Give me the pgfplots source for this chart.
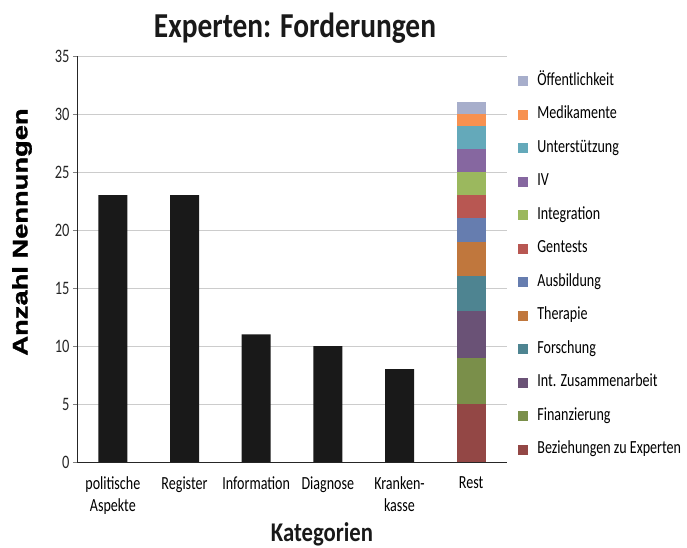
\documentclass[border=0pt]{standalone}
\usepackage{pgfplots}
\pgfplotsset{compat=1.18}
\usepackage{fontspec}
\setmainfont{Carlito}[FakeStretch=0.76]
\newfontfamily\titlefont{Carlito}[FakeStretch=0.84]
\newfontfamily\ylabfont{Liberation Sans}[FakeStretch=1.3, FakeBold=1.5]
\definecolor{cBez}{RGB}{147,71,69}
\definecolor{cFin}{RGB}{122,143,74}
\definecolor{cInt}{RGB}{106,82,118}
\definecolor{cFor}{RGB}{78,132,145}
\definecolor{cThe}{RGB}{192,119,61}
\definecolor{cAus}{RGB}{102,125,175}
\definecolor{cGen}{RGB}{184,87,82}
\definecolor{cInteg}{RGB}{155,184,94}
\definecolor{cIV}{RGB}{134,103,160}
\definecolor{cUnt}{RGB}{100,169,186}
\definecolor{cMed}{RGB}{247,145,80}
\definecolor{cOef}{RGB}{167,174,203}
\definecolor{barblack}{RGB}{25,25,25}
\begin{document}
\begin{tikzpicture}
\useasboundingbox (-77pt,-85pt) rectangle (610pt,462pt);
\begin{axis}[
  at={(0pt,0pt)}, anchor=south west,
  scale only axis, width=430pt, height=406pt,
  ybar stacked, bar width=29pt,
  xmin=-0.5, xmax=5.5, ymin=0, ymax=35,
  ytick={0,5,...,35},
  xtick={0,...,5},
  xticklabels={politische\\Aspekte, Register, Information, Diagnose, Kranken-\\kasse, Rest},
  xticklabel style={align=center, font=\fontsize{18.5}{22}\selectfont, yshift=-7pt},
  major x tick style={draw=none},
  yticklabel style={font=\fontsize{19}{20}\selectfont, text=black!85},
  /pgf/number format/assume math mode=true,
  axis x line*=bottom, axis y line*=left,
  axis line style={black!85, thick},
  tick align=outside, major tick length=4pt,
  ymajorgrids, grid style={gray!40, line width=0.8pt},
  legend style={at={(1.019,0.966)}, anchor=north west, draw=none, fill=none,
    font=\fontsize{18.5}{20}\selectfont, row sep=15.5pt, column sep=9pt, cells={anchor=west},
    nodes={inner sep=0pt, text height=13pt, text depth=5pt}},
  reverse legend,
  legend image code/.code={\fill[#1] (0pt,-5pt) rectangle (10pt,5pt);},
  every axis plot/.append style={draw=none},
]
\addplot[fill=barblack, forget plot] coordinates {(0,23) (1,23) (2,11) (3,10) (4,8) (5,0)};
\addplot[fill=cBez] coordinates {(0,0) (1,0) (2,0) (3,0) (4,0) (5,5)};
\addplot[fill=cFin] coordinates {(0,0) (1,0) (2,0) (3,0) (4,0) (5,4)};
\addplot[fill=cInt] coordinates {(0,0) (1,0) (2,0) (3,0) (4,0) (5,4)};
\addplot[fill=cFor] coordinates {(0,0) (1,0) (2,0) (3,0) (4,0) (5,3)};
\addplot[fill=cThe] coordinates {(0,0) (1,0) (2,0) (3,0) (4,0) (5,3)};
\addplot[fill=cAus] coordinates {(0,0) (1,0) (2,0) (3,0) (4,0) (5,2)};
\addplot[fill=cGen] coordinates {(0,0) (1,0) (2,0) (3,0) (4,0) (5,2)};
\addplot[fill=cInteg] coordinates {(0,0) (1,0) (2,0) (3,0) (4,0) (5,2)};
\addplot[fill=cIV] coordinates {(0,0) (1,0) (2,0) (3,0) (4,0) (5,2)};
\addplot[fill=cUnt] coordinates {(0,0) (1,0) (2,0) (3,0) (4,0) (5,2)};
\addplot[fill=cMed] coordinates {(0,0) (1,0) (2,0) (3,0) (4,0) (5,1)};
\addplot[fill=cOef] coordinates {(0,0) (1,0) (2,0) (3,0) (4,0) (5,1)};
\legend{Beziehungen zu Experten, Finanzierung, Int. Zusammenarbeit, Forschung, Therapie, Ausbildung, Gentests, Integration, IV, Unterstützung, Medikamente, Öffentlichkeit}
\end{axis}
\node[font=\titlefont\bfseries\fontsize{35}{36}\selectfont, text=black!90] at (218pt,434pt) {Experten: Forderungen};
\node[font=\ylabfont\bfseries\fontsize{21}{24}\selectfont, rotate=90] at (-55pt,230pt) {Anzahl Nennungen};
\node[font=\titlefont\bfseries\fontsize{27}{28}\selectfont, text=black!90] at (245pt,-72pt) {Kategorien};
\end{tikzpicture}
\end{document}
